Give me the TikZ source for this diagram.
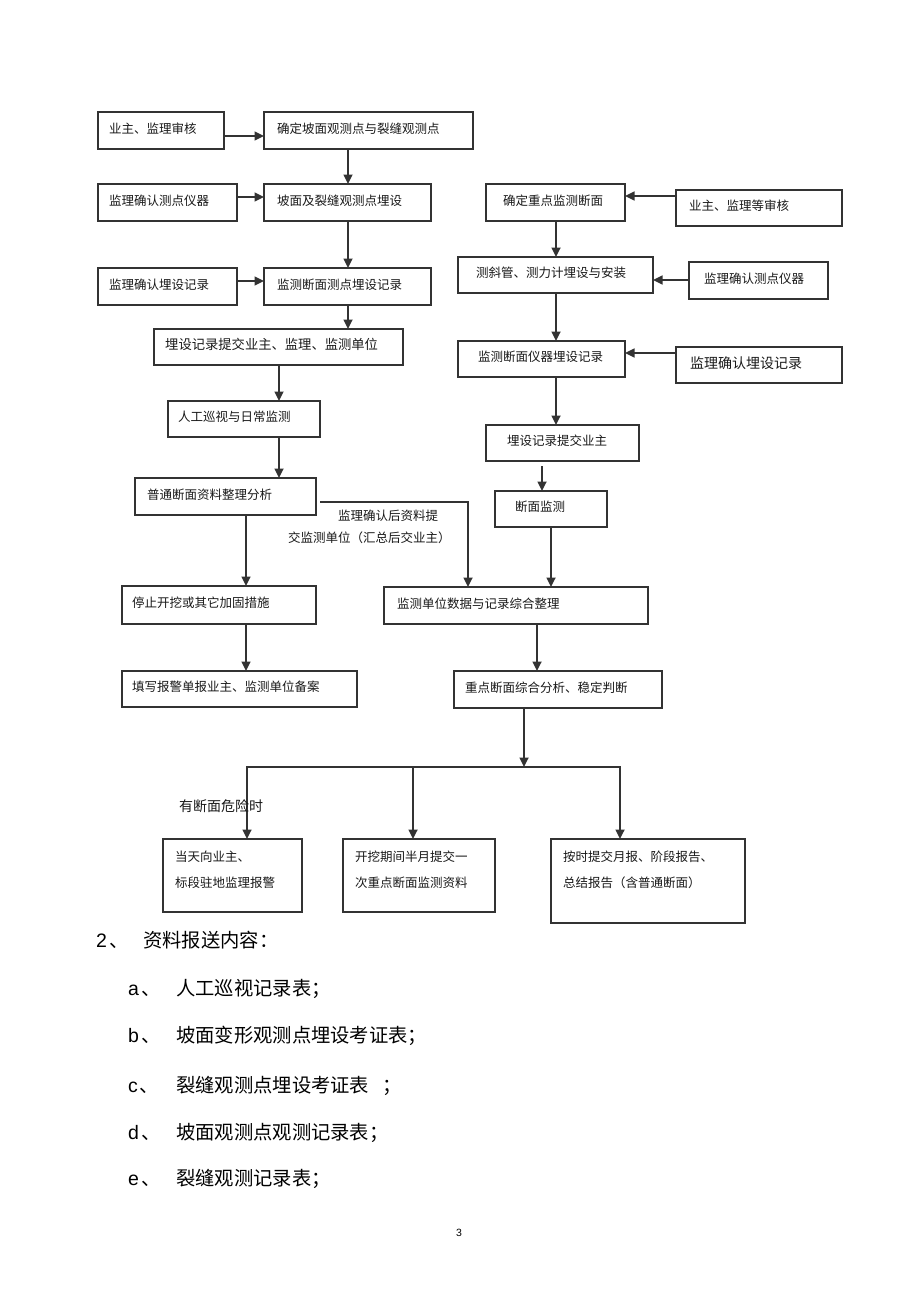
\documentclass[tikz,border=0pt]{standalone}
\usepackage{fontspec}
\newfontfamily\cjk{Noto Sans CJK SC}
\newfontfamily\lat{Liberation Sans}
\usetikzlibrary{arrows.meta,calc}
\newcommand\mybox[8][yshift=2pt]{%
  \pgfmathsetmacro\myBW{#5-#3}%
  \pgfmathsetmacro\myBH{#6-#4}%
  \node[box, minimum width=\myBW pt, minimum height=\myBH pt,
        label={[lbl, xshift=#7pt, #1]#8}] (#2) at (#3,#4) {};}
\begin{document}
\begin{tikzpicture}[x=1pt,y=-1pt,
  box/.style={draw=black!80, line width=1.5pt, rectangle, anchor=north west, inner sep=0pt, outer sep=0pt},
  lbl/.style={anchor=west, inner sep=0pt, font=\fontsize{12.5}{15}\cjk, text=black!90},
  arr/.style={draw=black!80, line width=1.7pt, -{Triangle[length=9.5pt,width=9pt]}},
  ln/.style={draw=black!80, line width=1.7pt},
  big/.style={anchor=base west, inner sep=0pt, font=\fontsize{19.3}{22}\cjk, text=black},
  latn/.style={anchor=base west, inner sep=0pt, font=\fontsize{19.5}{22}\lat, text=black},
  tbox/.style={anchor=north west, yshift=-12pt, align=left, font=\fontsize{12.5}{26}\cjk},
  ]
\useasboundingbox[fill=white] (0,0) rectangle (920,1303);

% left column
\mybox{L1}{98}{112}{224}{149}{11}{west:业主、监理审核}
\mybox{C1}{264}{112}{473}{149}{13}{west:确定坡面观测点与裂缝观测点}
\mybox{L2}{98}{184}{237}{221}{11}{west:监理确认测点仪器}
\mybox{C2}{264}{184}{431}{221}{13}{west:坡面及裂缝观测点埋设}
\mybox{L3}{98}{268}{237}{305}{11}{west:监理确认埋设记录}
\mybox{C3}{264}{268}{431}{305}{13}{west:监测断面测点埋设记录}
\mybox[yshift=3pt,font=\fontsize{13.3}{15}\cjk]{C4}{154}{329}{403}{365}{11}{west:埋设记录提交业主、监理、监测单位}
\mybox{C5}{168}{401}{320}{437}{10}{west:人工巡视与日常监测}
\mybox{C6}{135}{478}{316}{515}{12}{west:普通断面资料整理分析}
\mybox{C7}{122}{586}{316}{624}{10}{west:停止开挖或其它加固措施}
\mybox{C8}{122}{671}{357}{707}{10}{west:填写报警单报业主、监测单位备案}

% right column
\mybox{R1}{486}{184}{625}{221}{17}{west:确定重点监测断面}
\mybox{RR1}{676}{190}{842}{226}{13}{west:业主、监理等审核}
\mybox{R2}{458}{257}{653}{293}{18}{west:测斜管、测力计埋设与安装}
\mybox{RR2}{689}{262}{828}{299}{15}{west:监理确认测点仪器}
\mybox{R3}{458}{341}{625}{377}{20}{west:监测断面仪器埋设记录}
\mybox[yshift=2pt,font=\fontsize{14}{16}\cjk]{RR3}{676}{347}{842}{383}{14}{west:监理确认埋设记录}
\mybox{R4}{486}{425}{639}{461}{21}{west:埋设记录提交业主}
\mybox{R5}{495}{491}{607}{527}{20}{west:断面监测}
\mybox{R6}{384}{587}{648}{624}{13}{west:监测单位数据与记录综合整理}
\mybox{R7}{454}{671}{662}{708}{11}{west:重点断面综合分析、稳定判断}

% bottom boxes
\mybox[tbox]{B1}{163}{839}{302}{912}{12}{north west:当天向业主、\\标段驻地监理报警}
\mybox[tbox]{B2}{343}{839}{495}{912}{12}{north west:开挖期间半月提交一\\次重点断面监测资料}
\mybox[tbox]{B3}{551}{839}{745}{923}{12}{north west:按时提交月报、阶段报告、\\总结报告（含普通断面）}

% column coordinates
\coordinate (xa) at (348,0);
\coordinate (xb) at (279,0);
\coordinate (xc) at (246,0);
\coordinate (xd) at (556,0);
\coordinate (xe) at (542,0);
\coordinate (xf) at (551,0);
\coordinate (xg) at (537,0);
\coordinate (xh) at (468,0);
\coordinate (J1) at (247,767);
\coordinate (J2) at (413,767);
\coordinate (J)  at (524,767);
\coordinate (J3) at (620,767);

% left connectors
\draw[arr] ([yshift=-5.5pt]L1.east) -- ([yshift=-5.5pt]C1.west);
\draw[arr] ([yshift=5.5pt]L2.east) -- ([yshift=5.5pt]C2.west);
\draw[arr] ([yshift=5.5pt]L3.east) -- ([yshift=5.5pt]C3.west);
\draw[arr] (C1.south -| xa) -- (C2.north -| xa);
\draw[arr] (C2.south -| xa) -- (C3.north -| xa);
\draw[arr] (C3.south -| xa) -- (C4.north -| xa);
\draw[arr] (C4.south -| xb) -- (C5.north -| xb);
\draw[arr] (C5.south -| xb) -- (C6.north -| xb);
\draw[arr] (C6.south -| xc) -- (C7.north -| xc);
\draw[arr] (C7.south -| xc) -- (C8.north -| xc);
\coordinate (c6r) at ([xshift=4pt,yshift=-5.5pt]C6.east);
\draw[arr] (c6r) -| (R6.north -| xh);

% right connectors
\coordinate (rr1) at ([yshift=12pt]RR1.west);
\draw[arr] (rr1) -- (rr1 -| R1.east);
\coordinate (rr2) at ([yshift=0.5pt]RR2.west);
\draw[arr] (rr2) -- (rr2 -| R2.east);
\coordinate (rr3) at ([yshift=12pt]RR3.west);
\draw[arr] (rr3) -- (rr3 -| R3.east);
\draw[arr] (R1.south -| xd) -- (R2.north -| xd);
\draw[arr] (R2.south -| xd) -- (R3.north -| xd);
\draw[arr] (R3.south -| xd) -- (R4.north -| xd);
\coordinate (r4b) at ([yshift=-5pt]R4.south);
\draw[arr] (r4b -| xe) -- (R5.north -| xe);
\draw[arr] (R5.south -| xf) -- (R6.north -| xf);
\draw[arr] (R6.south -| xg) -- (R7.north -| xg);
\draw[arr] (R7.south -| J) -- (J);
\draw[arr] (J2) -- (J1) -- (B1.north -| J1);
\draw[arr] (J2) -- (B2.north -| J2);
\draw[arr] (J2) -- (J3) -- (B3.north -| J3);

% free labels
\node[lbl] (t1) at (338,516) {监理确认后资料提};
\node[lbl] (t2) at (288,538) {交监测单位（汇总后交业主）};
\node[lbl, font=\fontsize{14}{16}\cjk] (t3) at (179,806) {有断面危险时};

% list below
\node[latn] (n2) at (96,947) {2\kern2pt{\cjk\fontsize{19.3}{22}\selectfont 、}};
\node[big] (s2) at (143,947) {资料报送内容：};
\node[latn] (na) at (128,995) {a\kern2pt{\cjk\fontsize{19.3}{22}\selectfont 、}};
\node[big] (sa) at (176,995) {人工巡视记录表；};
\node[latn] (nb) at (128,1042) {b\kern2pt{\cjk\fontsize{19.3}{22}\selectfont 、}};
\node[big] (sb) at (176,1042) {坡面变形观测点埋设考证表；};
\node[latn] (nc) at (128,1092) {c\kern2pt{\cjk\fontsize{19.3}{22}\selectfont 、}};
\node[big] (sc) at (176,1092) {裂缝观测点埋设考证表\hspace{13pt}；};
\node[latn] (nd) at (128,1139) {d\kern2pt{\cjk\fontsize{19.3}{22}\selectfont 、}};
\node[big] (sd) at (176,1139) {坡面观测点观测记录表；};
\node[latn] (ne) at (128,1185) {e\kern2pt{\cjk\fontsize{19.3}{22}\selectfont 、}};
\node[big] (se) at (176,1185) {裂缝观测记录表；};
\node[anchor=base west, inner sep=0pt, font=\fontsize{10.5}{12}\lat] (pg) at (456,1236) {3};
\end{tikzpicture}
\end{document}
